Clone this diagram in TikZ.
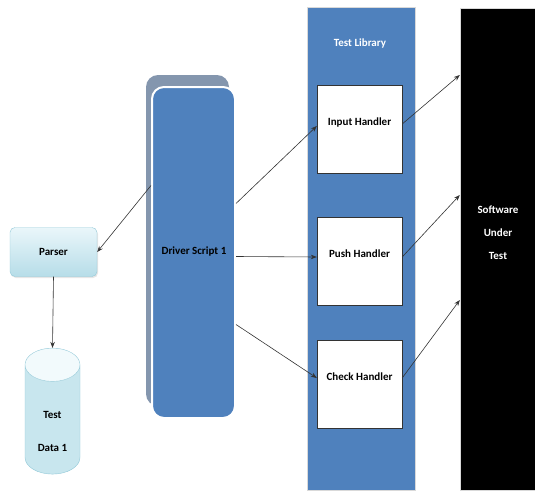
\documentclass[tikz,border=0pt]{standalone}
\usepackage{fontspec}
\setmainfont{Carlito}
\usetikzlibrary{arrows.meta,shapes.geometric,shadows}

\definecolor{officeblue}{HTML}{4F81BD}
\definecolor{slategray}{HTML}{8496AE}
\definecolor{parsertop}{HTML}{EAF6FA}
\definecolor{parserbot}{HTML}{B6DDE8}
\definecolor{parserline}{HTML}{93C9D8}

\begin{document}
\begin{tikzpicture}[x=1pt, y=-1pt, font=\bfseries\fontsize{11}{13}\selectfont,
    conn/.style={draw=black!80, line width=0.6pt, -{Stealth[length=6pt,width=4.5pt]}},
    parserbox/.style={draw=parserline, rounded corners=5pt, top color=parsertop,
        bottom color=parserbot, minimum width=87pt, minimum height=49pt,
        drop shadow={opacity=0.2, shadow xshift=1pt, shadow yshift=-1.5pt}},
    db/.style={cylinder, shape border rotate=90, aspect=5, draw=parserline,
        minimum width=55pt, minimum height=126pt, cylinder uses custom fill,
        cylinder body fill=parserbot!75, cylinder end fill=parsertop!60},
    driverbox/.style={draw=white, line width=2pt, fill=officeblue, rounded corners=12pt,
        minimum width=83pt, minimum height=331pt,
        general shadow={fill=slategray, draw=none, shadow xshift=-6pt, shadow yshift=12pt}},
    library/.style={draw=black!15, fill=officeblue, minimum width=108pt, minimum height=483pt},
    handler/.style={draw=black!80, fill=white, minimum width=85pt, minimum height=88pt,
        inner sep=0pt, text depth=14pt},
    sutbox/.style={draw=black!15, fill=black, minimum width=76pt, minimum height=482pt}]
    \useasboundingbox (0,0) rectangle (535,495);

    % Parser and test data
    \node[parserbox] (parser) at (53.5,252) {Parser};
    \node[db] (data) at (52.5,423.5) {};
    \node[align=center] (datatext) at ([yshift=-8pt]data.center) {Test\\[20pt]Data 1};

    % Driver script
    \node[driverbox] (driver) at (193.5,252.5) {};
    \node (drivertext) at (194,252) {Driver Script 1};

    % Test library with its handlers
    \node[library] (lib) at (361,248.5) {};
    \node[text=white] (libtitle) at (360,44) {Test Library};
    \foreach \name/\label/\y in {input/Input Handler/129, push/Push Handler/261,
        check/Check Handler/384} {
        \node[handler] (\name) at (359.5,\y) {\label};
    }

    % Software under test
    \node[sutbox] (sut) at (498,249) {};
    \node[text=white, align=center] (suttext) at ([yshift=16pt]sut.center)
        {Software\\[10pt]Under\\[10pt]Test};

    % Connectors
    \draw[conn] (parser.south) -- (data.north);
    \draw[conn] ([yshift=67pt]driver.west) -- (parser.east);
    \draw[conn] ([yshift=49pt]driver.east) -- ([yshift=3pt]input.west);
    \draw[conn] ([yshift=-4pt]driver.east) -- ([yshift=4pt]push.west);
    \draw[conn] ([yshift=-72pt]driver.east) -- ([yshift=6pt]check.west);
    \draw[conn] ([yshift=5pt]input.east) -- ([yshift=174pt]sut.west);
    \draw[conn] ([yshift=4pt]push.east) -- ([yshift=54pt]sut.west);
    \draw[conn] ([yshift=6pt]check.east) -- ([yshift=-51pt]sut.west);
\end{tikzpicture}
\end{document}
